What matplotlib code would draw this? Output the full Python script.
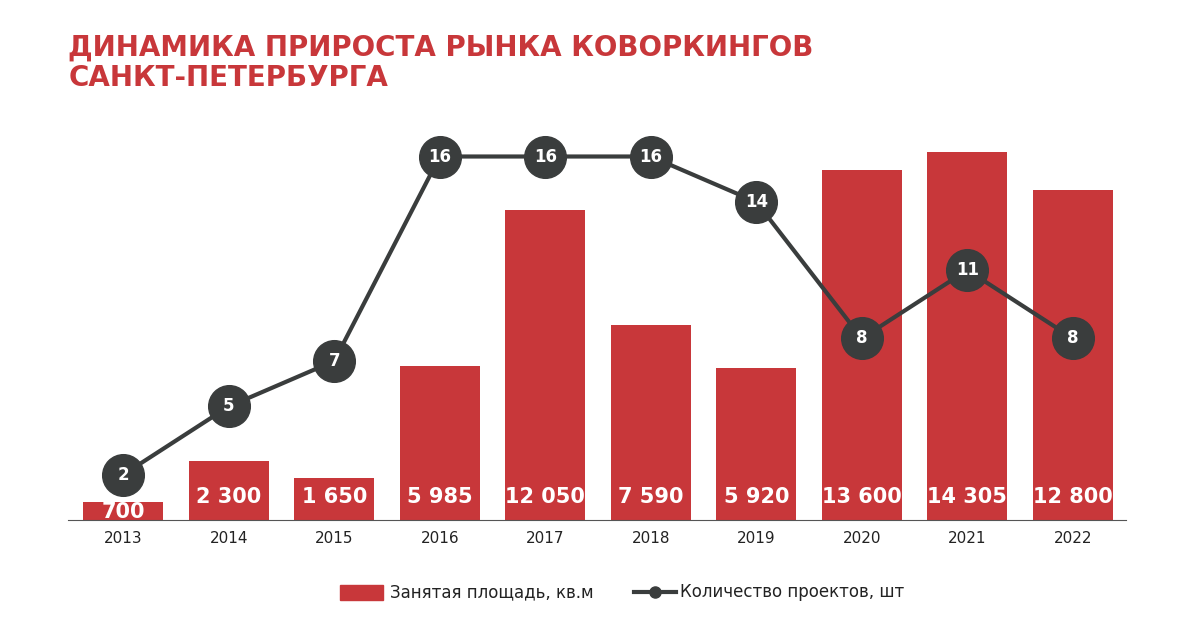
import matplotlib.pyplot as plt

years = ["2013", "2014", "2015", "2016", "2017", "2018", "2019", "2020", "2021", "2022"]
area = [700, 2300, 1650, 5985, 12050, 7590, 5920, 13600, 14305, 12800]
area_labels = ["700", "2 300", "1 650", "5 985", "12 050", "7 590", "5 920", "13 600", "14 305", "12 800"]
projects = [2, 5, 7, 16, 16, 16, 14, 8, 11, 8]

red = "#c8373a"
dark = "#3a3d3d"
plt.rcParams["font.family"] = "Montserrat, DejaVu Sans".split(", ")[1]

fig = plt.figure(figsize=(12, 6.35), dpi=100)
ax = fig.add_axes([0.057, 0.181, 0.881, 0.662])
x = list(range(len(years)))
ax.bar(x, area, width=0.76, color=red, zorder=1)
ax.set_xlim(-0.52, 9.5)
ax.set_ylim(0, 16326)
for i, lab in enumerate(area_labels):
    yy = 330 if area[i] < 1000 else 900
    ax.text(i, yy, lab, ha="center", va="center", color="white",
            fontsize=15, fontweight="bold", zorder=3)
ax.set_xticks(x)
ax.set_xticklabels(years, fontsize=11, color="#222222")
ax.set_yticks([])
for s in ["top", "right", "left"]:
    ax.spines[s].set_visible(False)
ax.spines["bottom"].set_color("#555555")
ax.tick_params(axis="x", length=0, pad=8)

ax2 = ax.twinx()
ax2.set_ylim(0, 18.5)
ax2.plot(x, projects, color=dark, lw=3, marker="o", markersize=30,
         markerfacecolor=dark, markeredgecolor=dark, zorder=4)
for i, p in enumerate(projects):
    ax2.text(i, p, str(p), ha="center", va="center", color="white",
             fontsize=12, fontweight="bold", zorder=5)
ax2.set_yticks([])
for s in ax2.spines.values():
    s.set_visible(False)

fig.text(0.057, 0.925, "ДИНАМИКА ПРИРОСТА РЫНКА КОВОРКИНГОВ", color=red,
         fontsize=20, fontweight="bold", va="center")
fig.text(0.057, 0.877, "САНКТ-ПЕТЕРБУРГА", color=red,
         fontsize=20, fontweight="bold", va="center")

# legend
fig.patches.append(plt.Rectangle((0.283, 0.055), 0.036, 0.024, color=red,
                                 transform=fig.transFigure, figure=fig))
fig.text(0.325, 0.067, "Занятая площадь, кв.м", fontsize=12, va="center", color="#222222")
fig.add_artist(plt.Line2D([0.528, 0.563], [0.067, 0.067], color=dark, lw=3,
                          marker="o", markevery=[0], markersize=0, transform=fig.transFigure))
fig.add_artist(plt.Line2D([0.5455], [0.067], color=dark, marker="o", markersize=8,
                          transform=fig.transFigure))
fig.text(0.567, 0.067, "Количество проектов, шт", fontsize=12, va="center", color="#222222")

fig.savefig("out.png", dpi=100)
